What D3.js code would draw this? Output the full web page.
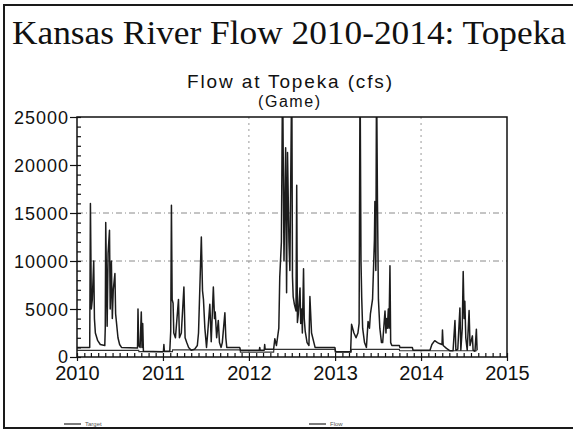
<!DOCTYPE html>
<html>
<head>
<meta charset="utf-8">
<script src="https://cdn.jsdelivr.net/npm/d3@7"></script>
<style>
    body { margin: 0; background: #fff; }
    svg { display: block; }
    .title { font-family: 'Liberation Serif', 'Times New Roman', serif; fill: #111; }
    .sans { font-family: 'Liberation Sans', Arial, sans-serif; fill: #111; }
    .axis text { font-family: 'Liberation Sans', Arial, sans-serif; fill: #111; }
    .axis path { display: none; }
    .axis line { stroke: #111; stroke-width: 1.2; }
</style>
</head>
<body>
<svg id="chart" width="573" height="430"></svg>
<script>
// daily flow at Topeka (values above 25000 run off the top)
const flowPoints = [
    ['2010-01-01', 1000], ['2010-02-24', 1000], ['2010-02-27', 16000], ['2010-03-03', 5000],
    ['2010-03-07', 6000], ['2010-03-13', 10000], ['2010-03-16', 4000], ['2010-03-20', 2500],
    ['2010-03-30', 1700], ['2010-04-10', 1300], ['2010-04-29', 1200], ['2010-05-01', 3000],
    ['2010-05-03', 14000], ['2010-05-09', 3200], ['2010-05-13', 10800], ['2010-05-19', 13200],
    ['2010-05-22', 5000], ['2010-05-27', 10000], ['2010-05-31', 4000], ['2010-06-04', 7000],
    ['2010-06-11', 8700], ['2010-06-14', 4500], ['2010-06-18', 3500], ['2010-06-20', 3000],
    ['2010-06-24', 2000], ['2010-07-01', 1300], ['2010-07-09', 1000], ['2010-09-15', 950],
    ['2010-09-17', 5000], ['2010-09-20', 1200], ['2010-09-26', 1000], ['2010-10-01', 4700],
    ['2010-10-04', 1000], ['2010-10-07', 3500], ['2010-10-10', 600], ['2010-12-31', 550],

    ['2011-01-03', 600], ['2011-01-05', 1300], ['2011-01-07', 600], ['2011-01-30', 600],
    ['2011-02-03', 2700], ['2011-02-06', 15800], ['2011-02-09', 6000], ['2011-02-13', 5600],
    ['2011-02-16', 2500], ['2011-02-23', 2000], ['2011-03-08', 6000], ['2011-03-12', 2000],
    ['2011-03-20', 2500], ['2011-03-31', 7300], ['2011-04-05', 2000], ['2011-04-12', 1500],
    ['2011-04-20', 1000], ['2011-05-01', 700], ['2011-05-15', 800], ['2011-05-27', 1200],
    ['2011-06-01', 2500], ['2011-06-13', 12500], ['2011-06-18', 6900], ['2011-06-22', 6000],
    ['2011-06-28', 3000], ['2011-07-05', 1000], ['2011-07-10', 2500], ['2011-07-19', 5500],
    ['2011-07-25', 1600], ['2011-08-03', 7300], ['2011-08-08', 4000], ['2011-08-11', 4700],
    ['2011-08-17', 2000], ['2011-08-24', 3800], ['2011-08-29', 1500], ['2011-09-05', 1000],
    ['2011-09-10', 1500], ['2011-09-21', 4600], ['2011-09-25', 2000], ['2011-09-29', 1000],
    ['2011-11-23', 1000], ['2011-11-26', 700],

    ['2012-02-14', 700], ['2012-02-16', 1000], ['2012-02-18', 700], ['2012-03-06', 700],
    ['2012-03-08', 1300], ['2012-03-10', 800], ['2012-04-15', 800], ['2012-04-20', 1900],
    ['2012-04-27', 1200], ['2012-05-07', 3000], ['2012-05-11', 8300], ['2012-05-18', 12000],
    ['2012-05-23', 30000], ['2012-05-29', 10000], ['2012-06-05', 21800], ['2012-06-09', 6700],
    ['2012-06-13', 21300], ['2012-06-19', 12000], ['2012-06-23', 9000], ['2012-07-01', 30000],
    ['2012-07-04', 8400], ['2012-07-07', 6300], ['2012-07-12', 5500], ['2012-07-19', 4800],
    ['2012-07-22', 17900], ['2012-07-25', 3600], ['2012-07-29', 4500], ['2012-08-05', 7200],
    ['2012-08-08', 3500], ['2012-08-12', 5000], ['2012-08-15', 2500], ['2012-08-20', 9200],
    ['2012-08-23', 4000], ['2012-08-27', 2700], ['2012-09-04', 1500], ['2012-09-12', 1200],
    ['2012-09-16', 6300], ['2012-09-23', 2500], ['2012-10-08', 1000], ['2012-12-31', 1000],

    ['2013-01-03', 550], ['2013-03-08', 550], ['2013-03-12', 3400], ['2013-03-22', 2500],
    ['2013-03-31', 2000], ['2013-04-08', 2500], ['2013-04-13', 3500], ['2013-04-17', 30000],
    ['2013-04-21', 10000], ['2013-04-24', 6200], ['2013-04-28', 3000], ['2013-05-06', 1500],
    ['2013-05-14', 1000], ['2013-05-21', 3700], ['2013-05-27', 3000], ['2013-05-31', 4500],
    ['2013-06-09', 6000], ['2013-06-17', 12200], ['2013-06-19', 16200], ['2013-06-23', 9000],
    ['2013-06-26', 30000], ['2013-06-30', 16000], ['2013-07-04', 6000], ['2013-07-10', 3000],
    ['2013-07-17', 1500], ['2013-07-22', 1500], ['2013-08-01', 4800], ['2013-08-05', 2500],
    ['2013-08-08', 4000], ['2013-08-11', 3000], ['2013-08-15', 5000], ['2013-08-18', 3000],
    ['2013-08-22', 9500], ['2013-08-25', 1500], ['2013-08-30', 1200], ['2013-10-01', 1200],
    ['2013-10-03', 1000], ['2013-11-25', 1000], ['2013-11-28', 700],

    ['2014-01-01', 700], ['2014-02-08', 700], ['2014-02-16', 1300], ['2014-02-28', 1700],
    ['2014-03-12', 1500], ['2014-03-20', 1400], ['2014-03-31', 1300], ['2014-04-02', 2800],
    ['2014-04-05', 1200], ['2014-04-19', 900], ['2014-05-04', 650], ['2014-05-17', 650],
    ['2014-05-25', 3800], ['2014-05-29', 700], ['2014-06-06', 800], ['2014-06-15', 5100],
    ['2014-06-19', 700], ['2014-06-25', 3000], ['2014-06-29', 8900], ['2014-07-03', 4000],
    ['2014-07-06', 5800], ['2014-07-10', 2000], ['2014-07-16', 700], ['2014-07-24', 4850],
    ['2014-07-28', 1200], ['2014-08-07', 2200], ['2014-08-10', 700], ['2014-08-18', 600],
    ['2014-08-24', 2900], ['2014-08-27', 700]
];

// stepped flow target
const targetPoints = [
    ['2010-01-01', 700], ['2010-09-20', 700], ['2010-09-21', 550], ['2011-02-10', 550],
    ['2011-02-11', 750], ['2011-11-25', 750], ['2011-11-26', 500], ['2012-04-15', 500],
    ['2012-04-16', 800], ['2013-01-01', 800], ['2013-01-02', 500], ['2013-03-10', 500],
    ['2013-03-11', 800], ['2013-10-01', 800], ['2013-10-02', 650], ['2014-08-27', 650]
];

const yTickValues = [0, 5000, 10000, 15000, 20000, 25000];
const yGridValues = [10000, 15000];
const xGridYears = ['2012-01-01', '2014-01-01'];
const seriesNames = ['Target', 'Flow'];

const parseDate = d3.timeParse('%Y-%m-%d');

let svg = d3.select('#chart');

let plot = { left: 77, right: 507, top: 117, bottom: 357 };

let x = d3.scaleTime()
    .domain([parseDate('2010-01-01'), parseDate('2015-01-01')])
    .range([plot.left, plot.right]);

let y = d3.scaleLinear()
    .domain([0, 25000])
    .range([plot.bottom, plot.top]);

// outer frame of the slide
svg.append('rect')
    .attr('x', 4)
    .attr('y', 5)
    .attr('width', 590)
    .attr('height', 423)
    .attr('fill', 'none')
    .attr('stroke', '#1a1a1a')
    .attr('stroke-width', 2);

svg.append('text')
    .attr('class', 'title')
    .attr('x', 12)
    .attr('y', 44)
    .attr('font-size', 34)
    .attr('textLength', 554)
    .attr('lengthAdjust', 'spacingAndGlyphs')
    .text('Kansas River Flow 2010-2014: Topeka');

svg.append('text')
    .attr('class', 'sans')
    .attr('x', 187)
    .attr('y', 88)
    .attr('font-size', 19)
    .attr('textLength', 205)
    .text('Flow at Topeka (cfs)');

svg.append('text')
    .attr('class', 'sans')
    .attr('x', 258)
    .attr('y', 107)
    .attr('font-size', 16)
    .attr('textLength', 62)
    .text('(Game)');

svg.append('defs')
    .append('clipPath')
    .attr('id', 'plot-clip')
    .append('rect')
    .attr('x', plot.left)
    .attr('y', plot.top)
    .attr('width', plot.right - plot.left)
    .attr('height', plot.bottom - plot.top);

// grid
svg.append('g')
    .selectAll('line')
    .data(yGridValues)
    .enter()
    .append('line')
    .attr('x1', plot.left)
    .attr('x2', plot.right)
    .attr('y1', d => y(d))
    .attr('y2', d => y(d))
    .attr('stroke', '#8a8a8a')
    .attr('stroke-width', 1)
    .attr('stroke-dasharray', '6,3,1,3');

svg.append('g')
    .selectAll('line')
    .data(xGridYears)
    .enter()
    .append('line')
    .attr('x1', d => x(parseDate(d)))
    .attr('x2', d => x(parseDate(d)))
    .attr('y1', plot.top)
    .attr('y2', plot.bottom)
    .attr('stroke', '#9a9a9a')
    .attr('stroke-width', 1)
    .attr('stroke-dasharray', '2,4');

// series
let line = d3.line()
    .x(d => x(parseDate(d[0])))
    .y(d => y(d[1]));

let lines = svg.append('g')
    .attr('clip-path', 'url(#plot-clip)');

lines.append('path')
    .datum(targetPoints)
    .attr('d', line)
    .attr('fill', 'none')
    .attr('stroke', '#333')
    .attr('stroke-width', 1.2);

lines.append('path')
    .datum(flowPoints)
    .attr('d', line)
    .attr('fill', 'none')
    .attr('stroke', '#1c1c1c')
    .attr('stroke-width', 1.5)
    .attr('stroke-linejoin', 'round');

// plot box
svg.append('rect')
    .attr('x', plot.left)
    .attr('y', plot.top)
    .attr('width', plot.right - plot.left)
    .attr('height', plot.bottom - plot.top)
    .attr('fill', 'none')
    .attr('stroke', '#111')
    .attr('stroke-width', 1.5);

// axes: major ticks outside, minor ticks inside
svg.append('g')
    .attr('class', 'axis')
    .attr('transform', `translate(${plot.left},0)`)
    .call(d3.axisLeft(y).tickValues(d3.range(0, 25001, 1000)).tickSize(-4).tickFormat(''));

let yAxis = svg.append('g')
    .attr('class', 'axis')
    .attr('transform', `translate(${plot.left},0)`)
    .call(d3.axisLeft(y).tickValues(yTickValues).tickSize(7).tickPadding(1).tickFormat(d3.format('d')));

yAxis.selectAll('text')
    .attr('font-size', 18)
    .attr('letter-spacing', 1)
    .attr('dy', d => d === 0 ? '0.3em' : '0.38em');

svg.append('g')
    .attr('class', 'axis')
    .attr('transform', `translate(0,${plot.bottom})`)
    .call(d3.axisBottom(x).ticks(d3.timeMonth.every(1)).tickSize(-4).tickFormat(''));

let xAxis = svg.append('g')
    .attr('class', 'axis')
    .attr('transform', `translate(0,${plot.bottom})`)
    .call(d3.axisBottom(x).ticks(d3.timeYear.every(1)).tickSize(4).tickPadding(5).tickFormat(d3.timeFormat('%Y')));

xAxis.selectAll('text')
    .attr('font-size', 20);

// legend
let legend = svg.append('g')
    .selectAll('g')
    .data(seriesNames)
    .enter()
    .append('g')
    .attr('transform', (d, i) => `translate(${i === 0 ? 64 : 309},424)`);

legend.append('line')
    .attr('x1', 0)
    .attr('x2', 17)
    .attr('stroke', '#333')
    .attr('stroke-width', 1.3);

legend.append('text')
    .attr('class', 'sans')
    .attr('x', 21)
    .attr('y', 2)
    .attr('font-size', 6)
    .style('fill', '#555')
    .text(d => d);
</script>
</body>
</html>
